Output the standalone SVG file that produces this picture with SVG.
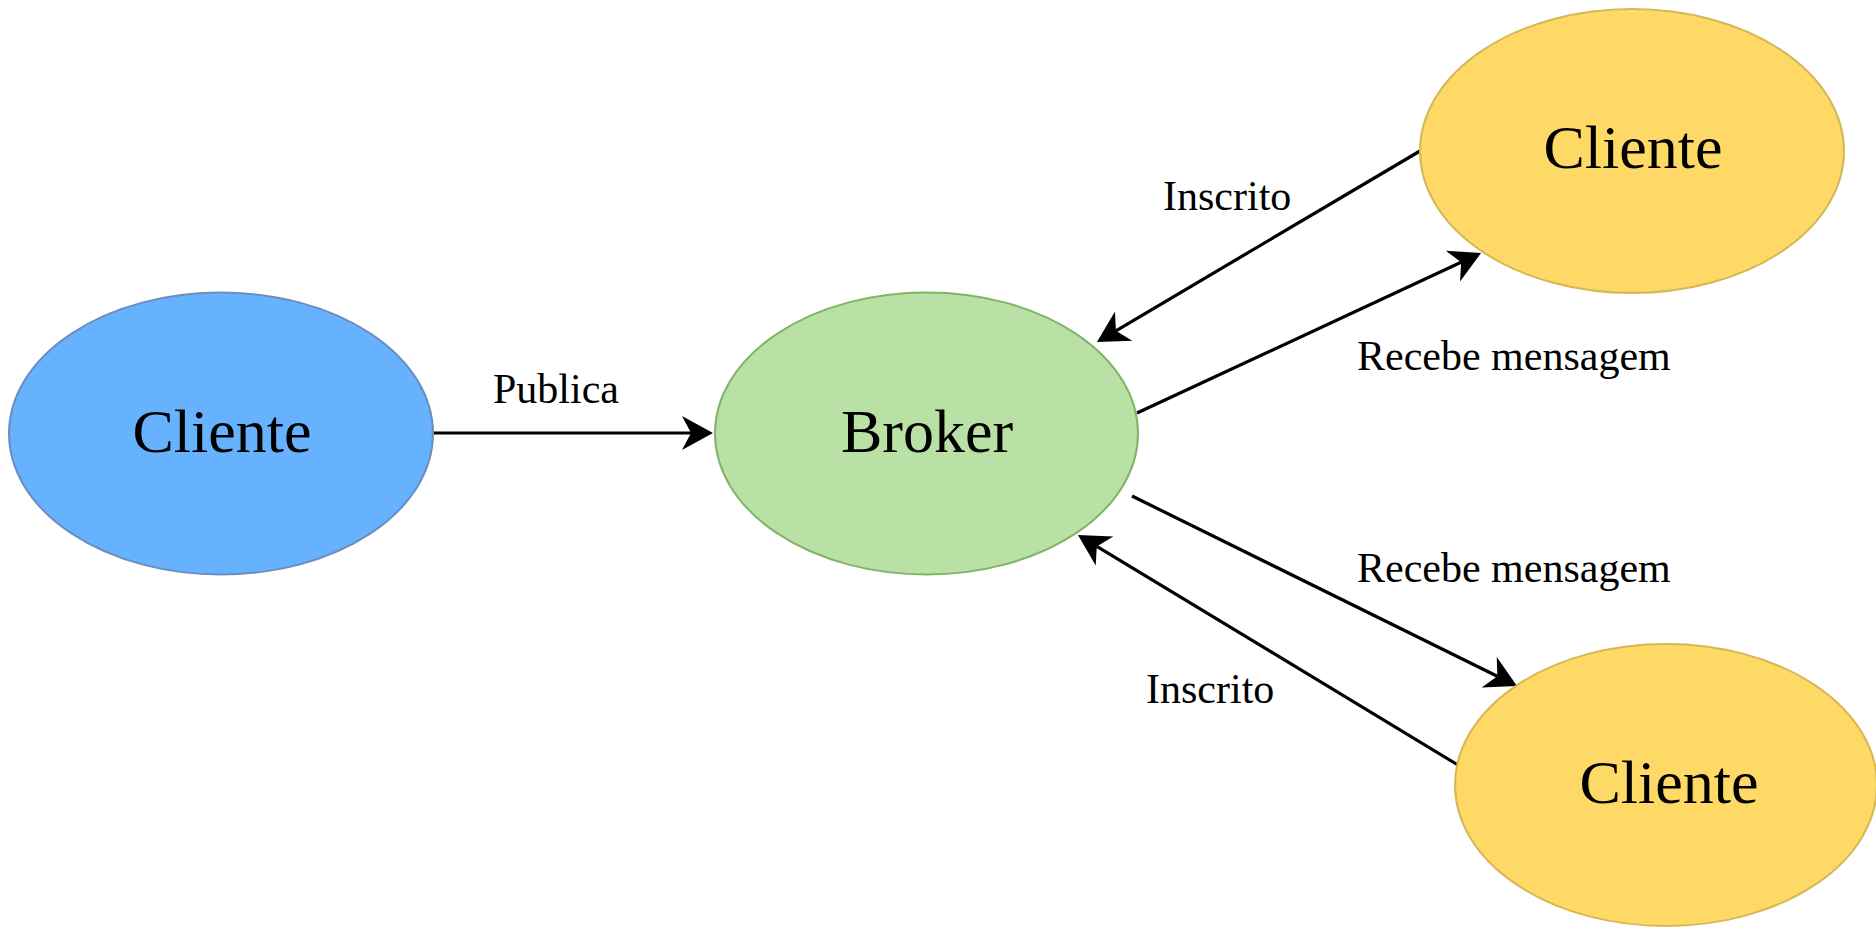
<svg xmlns="http://www.w3.org/2000/svg" width="1876" height="927" viewBox="0 0 1876 927">
  <style>
    .node-label { font-family: "Liberation Serif", "Times New Roman", serif; font-size: 62px; fill: #000; text-anchor: middle; }
    .edge-label { font-family: "Liberation Serif", "Times New Roman", serif; font-size: 42px; fill: #000; }
    .edge { stroke: #000; stroke-width: 3.2; fill: none; marker-end: url(#arrow); }
    .blue { fill: #66b2ff; stroke: #6c8ebf; stroke-width: 2; }
    .green { fill: #b9e0a5; stroke: #82b366; stroke-width: 2; }
    .yellow { fill: #ffd966; stroke: #d6b656; stroke-width: 2; }
  </style>
  <defs>
    <marker id="arrow" markerUnits="userSpaceOnUse" markerWidth="44" markerHeight="44" viewBox="-12 -22 44 44" refX="0" refY="0" orient="auto">
      <path d="M-9,-17 L22,0 L-9,17 L0,0 Z" fill="#000"/>
    </marker>
  </defs>
  <rect width="1876" height="927" fill="#fff"/>

  <g id="connectors">
    <line class="edge" x1="433" y1="433" x2="691" y2="433"/>
    <line class="edge" x1="1420" y1="151" x2="1115.9" y2="330.8"/>
    <line class="edge" x1="1137" y1="413" x2="1461.1" y2="262.3"/>
    <line class="edge" x1="1132" y1="496" x2="1497.3" y2="676.3"/>
    <line class="edge" x1="1458" y1="765" x2="1096.8" y2="546.4"/>
  </g>

  <g id="edge-labels">
    <text class="edge-label" x="493" y="403">Publica</text>
    <text class="edge-label" x="1163" y="210">Inscrito</text>
    <text class="edge-label" x="1357" y="370">Recebe mensagem</text>
    <text class="edge-label" x="1357" y="582">Recebe mensagem</text>
    <text class="edge-label" x="1146" y="703">Inscrito</text>
  </g>

  <g id="publisher">
    <ellipse class="blue" cx="221" cy="433.5" rx="212" ry="141"/>
    <text class="node-label" x="222" y="452">Cliente</text>
  </g>

  <g id="broker">
    <ellipse class="green" cx="926.5" cy="433.5" rx="211.5" ry="141"/>
    <text class="node-label" x="927" y="452">Broker</text>
  </g>

  <g id="subscriber-top">
    <ellipse class="yellow" cx="1632" cy="151" rx="212" ry="142"/>
    <text class="node-label" x="1633" y="168">Cliente</text>
  </g>

  <g id="subscriber-bottom">
    <ellipse class="yellow" cx="1666" cy="785" rx="211" ry="141"/>
    <text class="node-label" x="1669" y="803">Cliente</text>
  </g>
</svg>
